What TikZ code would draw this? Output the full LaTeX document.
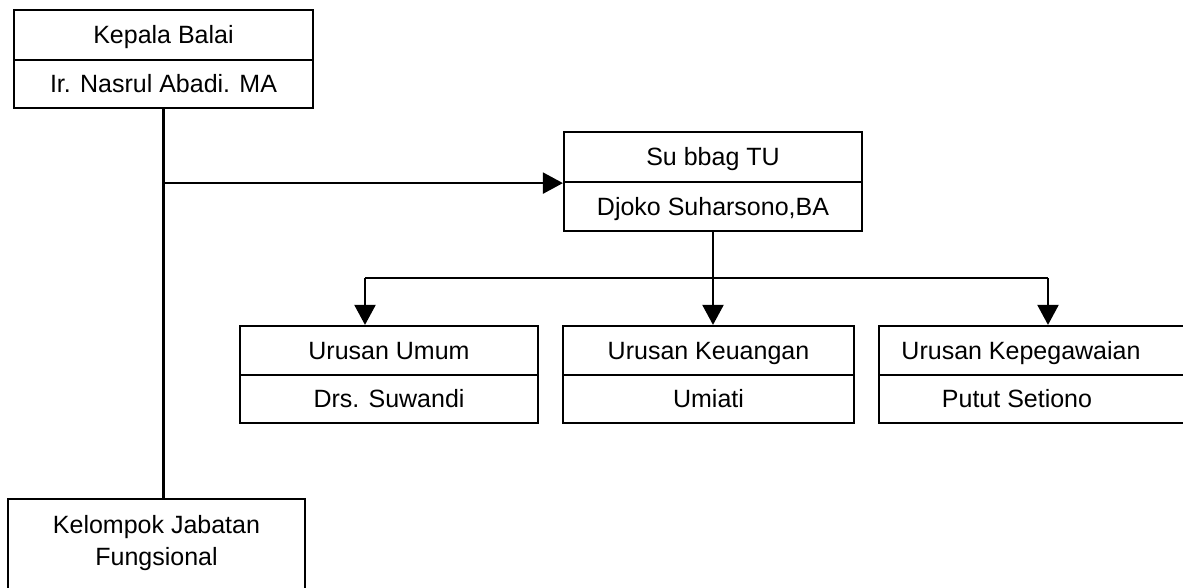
\documentclass[tikz,border=0pt]{standalone}
\usepackage{fontspec}
\setmainfont{Liberation Sans}
\usetikzlibrary{arrows.meta}
\begin{document}
\begin{tikzpicture}[x=1pt,y=-1pt,
  cell/.style={draw, line width=2.2pt, inner sep=0pt, text height=17pt, text depth=0pt,
               font=\fontsize{25}{32}\selectfont},
  link/.style={line width=2.2pt},
  arr/.style={link, -{Triangle[length=20pt,width=21pt]}}]
\useasboundingbox (0,0) rectangle (1183,588);
\clip (0,0) rectangle (1183,588);
\fill[white] (0,0) rectangle (1183,588);

% Kepala Balai
\node[cell, minimum width=299pt, minimum height=50pt] (a1) at (163.5,35) {Kepala Balai};
\node[cell, minimum width=299pt, minimum height=48pt] (a2) at (163.5,84) {Ir. Nasrul Abadi. MA};

% Subbag TU
\node[cell, minimum width=298pt, minimum height=50pt] (s1) at (713,157) {Su bbag TU};
\node[cell, minimum width=298pt, minimum height=49pt] (s2) at (713,206.5) {Djoko Suharsono,BA};

% Urusan Umum
\node[cell, minimum width=298pt, minimum height=49pt] (u1) at (389,350.5) {Urusan Umum};
\node[cell, minimum width=298pt, minimum height=48pt] (u2) at (389,399) {Drs. Suwandi};

% Urusan Keuangan
\node[cell, minimum width=291pt, minimum height=49pt] (k1) at (708.5,350.5) {Urusan Keuangan};
\node[cell, minimum width=291pt, minimum height=48pt] (k2) at (708.5,399) {Umiati};

% Urusan Kepegawaian
\node[cell, minimum width=320pt, minimum height=49pt] (p1) at (1039,350.5) {\hspace*{-36pt}Urusan Kepegawaian};
\node[cell, minimum width=320pt, minimum height=48pt] (p2) at (1039,399) {\hspace*{-44pt}Putut Setiono};

% Kelompok Jabatan Fungsional
\node[draw, line width=2.2pt, inner sep=0pt, anchor=north, minimum width=297pt, align=center,
      font=\fontsize{25}{32}\selectfont] (f) at (156.5,498)
  {\rule{0pt}{34pt}Kelompok Jabatan\\Fungsional\rule[-60pt]{0pt}{1pt}};

% connectors
\draw[link] (a2.south) -- (a2.south |- f.north);
\draw[arr] (a2.south |- s1.south) -- (s1.south west);
\draw[arr] (s2.south) -- (s2.south |- k1.north);
\coordinate (bl) at (365,278);
\coordinate (br) at (1048,278);
\draw[link] (bl) -- (br);
\draw[arr] (bl) -- (bl |- u1.north);
\draw[arr] (br) -- (br |- p1.north);
\end{tikzpicture}
\end{document}
